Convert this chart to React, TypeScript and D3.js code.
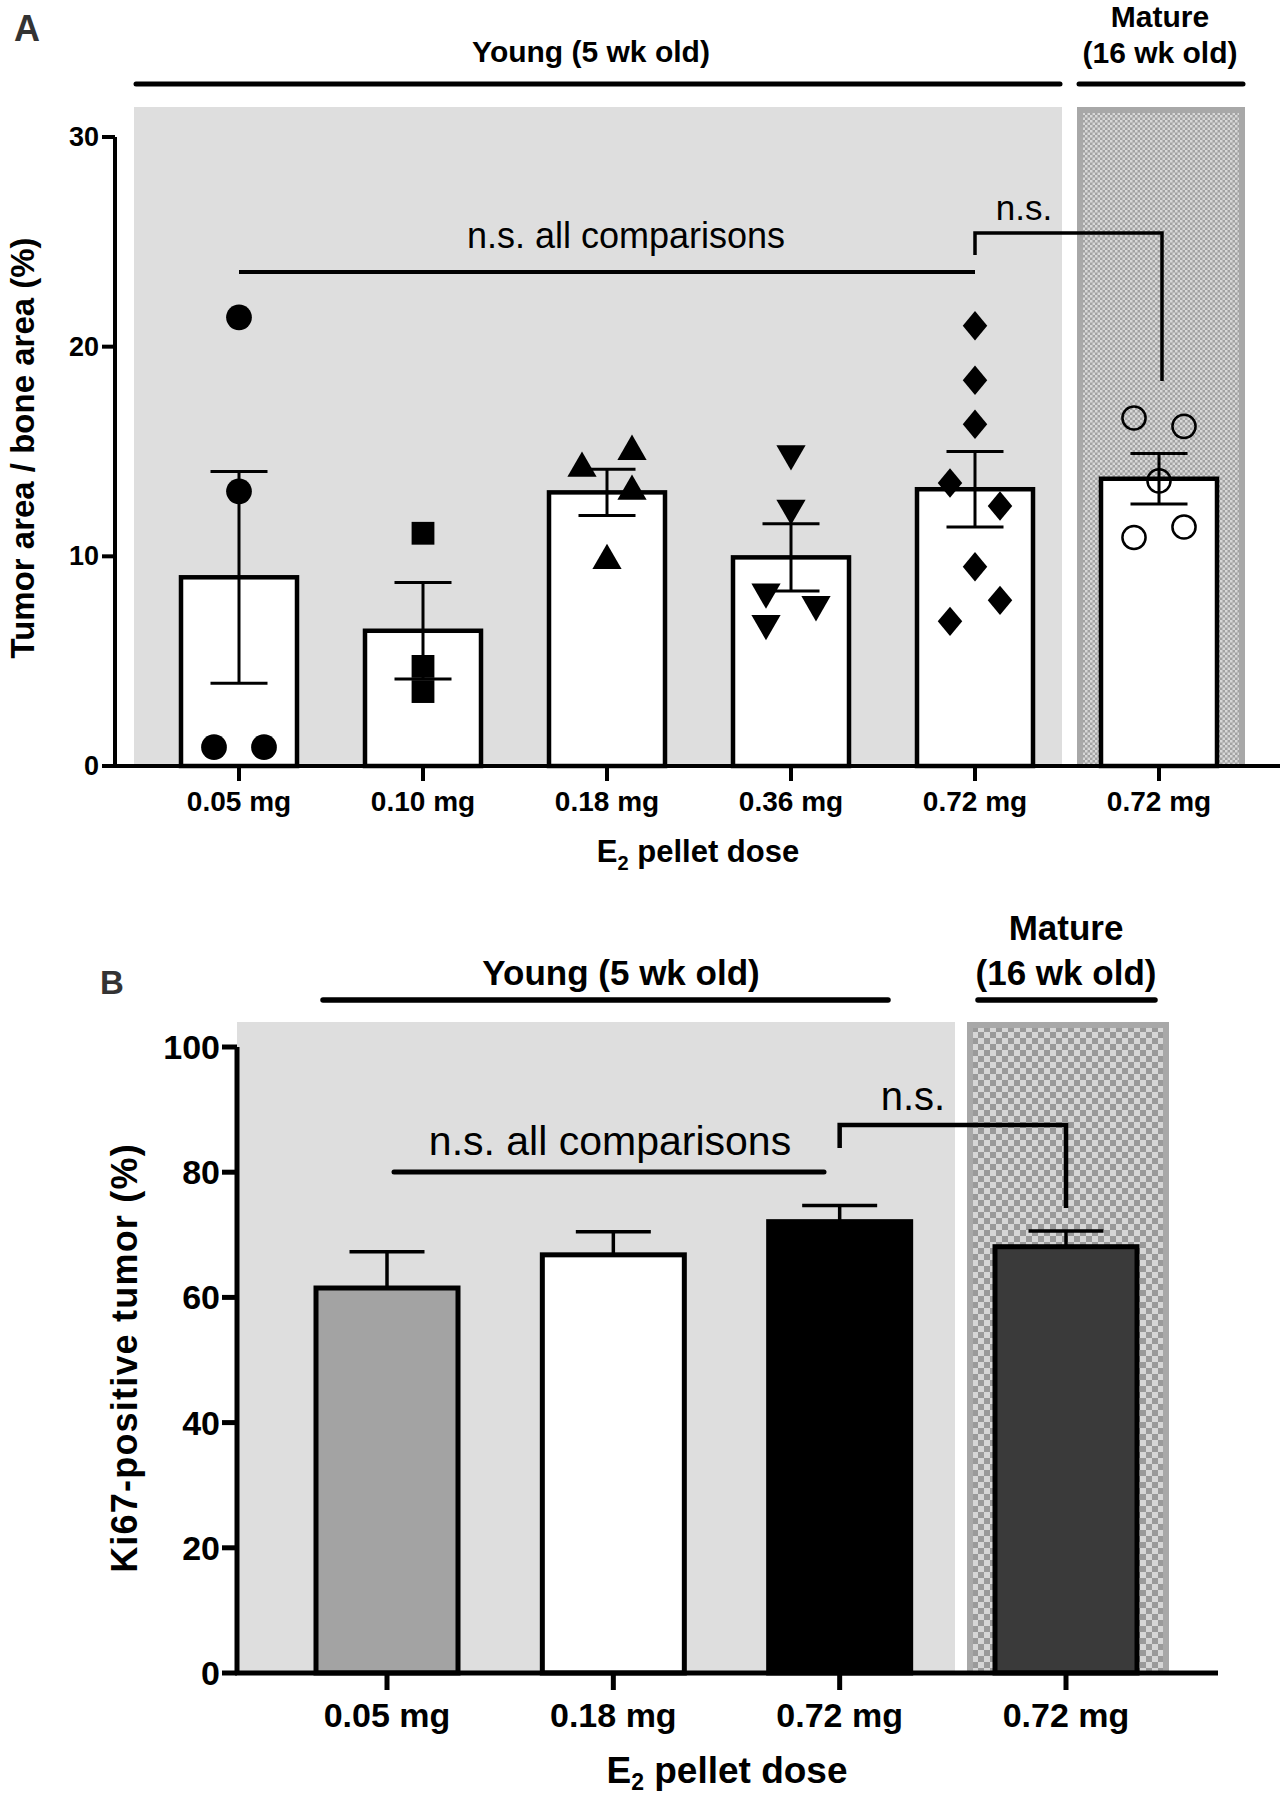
import React from "react";
import * as d3 from "d3";

// ---------- Panel A data ----------
const aCategories = ["0.05 mg", "0.10 mg", "0.18 mg", "0.36 mg", "0.72 mg", "0.72 mg"];
const aKeys = ["y005", "y010", "y018", "y036", "y072", "m072"];
const aMeans = [9.0, 6.45, 13.05, 9.95, 13.2, 13.7];
const aSem = [5.05, 2.3, 1.1, 1.6, 1.8, 1.2];
const aPoints: number[][] = [
  [21.4, 13.1, 0.9, 0.9],
  [11.1, 4.75, 3.55],
  [15.0, 14.2, 13.1, 9.8],
  [14.9, 12.3, 8.3, 7.7, 6.8],
  [21.0, 18.4, 16.3, 13.5, 12.4, 9.5, 7.9, 6.9],
  [16.6, 16.2, 13.6, 11.4, 10.9],
];
// horizontal slot (-1 left, 0 centre, 1 right) of each point
const aSlots: number[][] = [
  [0, 0, -1, 1],
  [0, 0, 0],
  [1, -1, 1, 0],
  [0, 0, -1, 1, -1],
  [0, 0, 0, -1, 1, 0, 1, -1],
  [-1, 1, 0, 1, -1],
];
const aMarkers = ["circle", "square", "triangle", "triangleDown", "diamond", "openCircle"];
const aYTicks = [0, 10, 20, 30];

// ---------- Panel B data ----------
const bCategories = ["0.05 mg", "0.18 mg", "0.72 mg", "0.72 mg"];
const bKeys = ["y005", "y018", "y072", "m072"];
const bMeans = [61.5, 66.8, 72.1, 68.1];
const bSem = [5.8, 3.7, 2.6, 2.5];
const bFills = ["#a3a3a3", "#ffffff", "#000000", "#3a3a3a"];
const bYTicks = [0, 20, 40, 60, 80, 100];

const FONT = "'Liberation Sans', Arial, Helvetica, sans-serif";

function markerPath(kind: string): string {
  const gen = d3.symbol();
  switch (kind) {
    case "circle":
      return gen.type(d3.symbolCircle).size(520)() as string;
    case "square":
      return gen.type(d3.symbolSquare).size(520)() as string;
    case "triangle":
    case "triangleDown":
      return gen.type(d3.symbolTriangle).size(370)() as string;
    case "diamond":
      return gen.type(d3.symbolSquare).size(300)() as string;
    case "openCircle":
      return gen.type(d3.symbolCircle).size(420)() as string;
  }
  return "";
}

function markerTransform(kind: string, px: number, py: number): string {
  if (kind === "triangleDown") return `translate(${px},${py}) rotate(180)`;
  if (kind === "diamond") return `translate(${px},${py}) scale(1,1.2) rotate(45)`;
  return `translate(${px},${py})`;
}

function PanelA() {
  const y = d3.scaleLinear().domain([0, 30]).range([766, 137]);
  const x = d3.scalePoint<string>().domain(aKeys).range([239, 1159]);
  const barW = 116;
  const slotDx = 25;
  const axisX = 115;
  const capW = 57;
  return (
    <g>
      <defs>
        <pattern id="checkA" patternUnits="userSpaceOnUse" width={5} height={5}>
          <rect width={5} height={5} fill="#a2a2a2" />
          <rect width={2.5} height={2.5} fill="#d8d8d8" />
          <rect x={2.5} y={2.5} width={2.5} height={2.5} fill="#d8d8d8" />
        </pattern>
      </defs>
      <text x={14} y={41} fontFamily={FONT} fontWeight="bold" fontSize={36} fill="#333">A</text>
      {/* backgrounds */}
      <rect x={134} y={107} width={1062 - 134} height={766 - 107} fill="#dedede" />
      <rect x={1077} y={107} width={1245 - 1077} height={766 - 107} fill="#a8a8a8" />
      <rect x={1083} y={113} width={1245 - 1077 - 12} height={766 - 113} fill="url(#checkA)" />
      {/* group labels */}
      <text x={591} y={62} textAnchor="middle" fontFamily={FONT} fontWeight="bold" fontSize={30}>Young (5 wk old)</text>
      <line x1={136} x2={1060} y1={84} y2={84} stroke="#000" strokeWidth={5} strokeLinecap="round" />
      <text x={1160} y={27} textAnchor="middle" fontFamily={FONT} fontWeight="bold" fontSize={30}>Mature</text>
      <text x={1160} y={63} textAnchor="middle" fontFamily={FONT} fontWeight="bold" fontSize={30}>(16 wk old)</text>
      <line x1={1079} x2={1243} y1={84} y2={84} stroke="#000" strokeWidth={5} strokeLinecap="round" />
      {/* bars */}
      {aKeys.map((k, i) => (
        <rect key={k} x={(x(k) as number) - barW / 2} y={y(aMeans[i])} width={barW} height={y(0) - y(aMeans[i])}
          fill="#fff" stroke="#000" strokeWidth={4.5} />
      ))}
      {/* error bars */}
      {aKeys.map((k, i) => {
        const cx = x(k) as number;
        const hi = y(aMeans[i] + aSem[i]);
        const lo = y(aMeans[i] - aSem[i]);
        return (
          <g key={k} stroke="#000" strokeWidth={3}>
            <line x1={cx} x2={cx} y1={hi} y2={lo} />
            <line x1={cx - capW / 2} x2={cx + capW / 2} y1={hi} y2={hi} />
            <line x1={cx - capW / 2} x2={cx + capW / 2} y1={lo} y2={lo} />
          </g>
        );
      })}
      {/* points */}
      {aKeys.map((k, i) =>
        aPoints[i].map((v, j) => {
          const kind = aMarkers[i];
          const px = (x(k) as number) + aSlots[i][j] * slotDx;
          const py = y(v);
          const open = kind === "openCircle";
          return (
            <path key={k + j} d={markerPath(kind)} transform={markerTransform(kind, px, py)}
              fill={open ? "none" : "#000"} stroke={open ? "#000" : "none"} strokeWidth={2.5} />
          );
        })
      )}
      {/* axes */}
      <line x1={axisX} x2={axisX} y1={y(30)} y2={y(0)} stroke="#000" strokeWidth={4} />
      <line x1={axisX - 2} x2={1280} y1={y(0)} y2={y(0)} stroke="#000" strokeWidth={4} />
      {aYTicks.map((t) => (
        <g key={t}>
          <line x1={axisX - 13} x2={axisX} y1={y(t)} y2={y(t)} stroke="#000" strokeWidth={4} />
          <text x={axisX - 16} y={y(t) + 9} textAnchor="end" fontFamily={FONT} fontWeight="bold" fontSize={27}>{t}</text>
        </g>
      ))}
      {aKeys.map((k, i) => (
        <g key={k}>
          <line x1={x(k) as number} x2={x(k) as number} y1={y(0)} y2={y(0) + 15} stroke="#000" strokeWidth={4} />
          <text x={x(k) as number} y={811} textAnchor="middle" fontFamily={FONT} fontWeight="bold" fontSize={28}>{aCategories[i]}</text>
        </g>
      ))}
      <text x={698} y={862} textAnchor="middle" fontFamily={FONT} fontWeight="bold" fontSize={31}>
        E<tspan fontSize={20} dy={8}>2</tspan><tspan dy={-8}> pellet dose</tspan>
      </text>
      <text transform={`translate(34,448) rotate(-90)`} textAnchor="middle" fontFamily={FONT} fontWeight="bold" fontSize={33}>
        Tumor area / bone area (%)
      </text>
      {/* significance */}
      <text x={626} y={248} textAnchor="middle" fontFamily={FONT} fontSize={36}>n.s. all comparisons</text>
      <line x1={x("y005") as number} x2={x("y072") as number} y1={272} y2={272} stroke="#000" strokeWidth={4} />
      <path d={`M${x("y072")},255 V233 H${(x("m072") as number) + 3} V381`} fill="none" stroke="#000" strokeWidth={3.5} />
      <text x={1024} y={220} textAnchor="middle" fontFamily={FONT} fontSize={35}>n.s.</text>
    </g>
  );
}

function PanelB() {
  const y = d3.scaleLinear().domain([0, 100]).range([1673, 1047]);
  const x = d3.scalePoint<string>().domain(bKeys).range([387, 1066]);
  const barW = 142;
  const axisX = 237;
  const capW = 75;
  return (
    <g>
      <defs>
        <pattern id="checkB" patternUnits="userSpaceOnUse" width={12} height={12}>
          <rect width={12} height={12} fill="#9a9a9a" />
          <rect width={6} height={6} fill="#d6d6d6" />
          <rect x={6} y={6} width={6} height={6} fill="#d6d6d6" />
        </pattern>
      </defs>
      <text x={100} y={994} fontFamily={FONT} fontWeight="bold" fontSize={33} fill="#333">B</text>
      <rect x={axisX} y={1022} width={955 - axisX} height={1673 - 1022} fill="#dedede" />
      <rect x={967} y={1022} width={1169 - 967} height={1673 - 1022} fill="#a8a8a8" />
      <rect x={973} y={1028} width={1169 - 967 - 12} height={1673 - 1028} fill="url(#checkB)" />
      <text x={621} y={985} textAnchor="middle" fontFamily={FONT} fontWeight="bold" fontSize={35}>Young (5 wk old)</text>
      <line x1={323} x2={888} y1={1000} y2={1000} stroke="#000" strokeWidth={5.5} strokeLinecap="round" />
      <text x={1066} y={940} textAnchor="middle" fontFamily={FONT} fontWeight="bold" fontSize={35}>Mature</text>
      <text x={1066} y={985} textAnchor="middle" fontFamily={FONT} fontWeight="bold" fontSize={35}>(16 wk old)</text>
      <line x1={978} x2={1155} y1={1000} y2={1000} stroke="#000" strokeWidth={5.5} strokeLinecap="round" />
      {bKeys.map((k, i) => {
        const cx = x(k) as number;
        const top = y(bMeans[i]);
        const hi = y(bMeans[i] + bSem[i]);
        return (
          <g key={k}>
            <rect x={cx - barW / 2} y={top} width={barW} height={y(0) - top} fill={bFills[i]} stroke="#000" strokeWidth={5} />
            <line x1={cx} x2={cx} y1={top} y2={hi} stroke="#000" strokeWidth={3.5} />
            <line x1={cx - capW / 2} x2={cx + capW / 2} y1={hi} y2={hi} stroke="#000" strokeWidth={3.5} />
          </g>
        );
      })}
      <line x1={axisX} x2={axisX} y1={y(100)} y2={y(0)} stroke="#000" strokeWidth={5} />
      <line x1={axisX - 2} x2={1218} y1={y(0)} y2={y(0)} stroke="#000" strokeWidth={5} />
      {bYTicks.map((t) => (
        <g key={t}>
          <line x1={axisX - 15} x2={axisX} y1={y(t)} y2={y(t)} stroke="#000" strokeWidth={5} />
          <text x={axisX - 17} y={y(t) + 12} textAnchor="end" fontFamily={FONT} fontWeight="bold" fontSize={34}>{t}</text>
        </g>
      ))}
      {bKeys.map((k, i) => (
        <g key={k}>
          <line x1={x(k) as number} x2={x(k) as number} y1={y(0)} y2={y(0) + 17} stroke="#000" strokeWidth={5} />
          <text x={x(k) as number} y={1727} textAnchor="middle" fontFamily={FONT} fontWeight="bold" fontSize={34}>{bCategories[i]}</text>
        </g>
      ))}
      <text x={727} y={1783} textAnchor="middle" fontFamily={FONT} fontWeight="bold" fontSize={37}>
        E<tspan fontSize={23} dy={7}>2</tspan><tspan dy={-7}> pellet dose</tspan>
      </text>
      <text transform={`translate(137,1358) rotate(-90)`} textAnchor="middle" fontFamily={FONT} fontWeight="bold" fontSize={36} letterSpacing={1.2}>
        Ki67-positive tumor (%)
      </text>
      <text x={610} y={1155} textAnchor="middle" fontFamily={FONT} fontSize={41}>n.s. all comparisons</text>
      <line x1={394} x2={824} y1={1172} y2={1172} stroke="#000" strokeWidth={5} strokeLinecap="round" />
      <path d={`M${x("y072")},1148 V1125 H${x("m072")} V1208`} fill="none" stroke="#000" strokeWidth={4.5} />
      <text x={913} y={1110} textAnchor="middle" fontFamily={FONT} fontSize={40}>n.s.</text>
    </g>
  );
}

export default function App() {
  return (
    <svg width={1286} height={1800} viewBox="0 0 1286 1800"
      style={{ position: "absolute", left: 0, top: 0, background: "#fff" }}>
      <rect width={1286} height={1800} fill="#fff" />
      <PanelA />
      <PanelB />
    </svg>
  );
}
